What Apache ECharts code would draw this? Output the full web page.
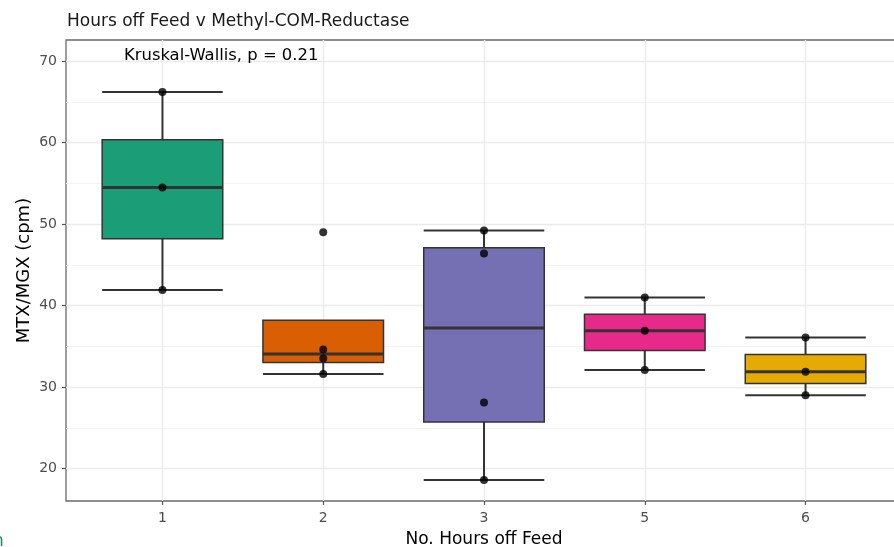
<!DOCTYPE html>
<html>
<head>
<meta charset="utf-8">
<script src="https://cdn.jsdelivr.net/npm/echarts@6/dist/echarts.min.js"></script>
<style>
  html, body { margin: 0; padding: 0; background: #ffffff; }
  #chart { width: 894px; height: 547px; }
</style>
</head>
<body>
<div id="chart"></div>
<script>
// Feed-withdrawal groups (hours) and MTX/MGX readings per animal
const categories = ['1', '2', '3', '5', '6'];
const hours1 = [41.9, 54.5, 66.2];
const hours2 = [31.6, 33.5, 34.6, 49.0];
const hours3 = [18.6, 28.1, 46.4, 49.2];
const hours5 = [32.1, 36.9, 41.0];
const hours6 = [29.0, 31.9, 36.1];
const groupValues = [hours1, hours2, hours3, hours5, hours6];

const boxColors = ['#1B9E77', '#D95F02', '#7570B3', '#E7298A', '#E6AB02'];
const yTicks = [20, 30, 40, 50, 60, 70];
const yMinorTicks = [25, 35, 45, 55, 65];
const yRange = [16.03, 72.58];
const xRange = [0.4, 5.6];
const testLabel = 'Kruskal-Wallis, p = 0.21';

const FONT = '"DejaVu Sans", "Liberation Sans", Arial, sans-serif';

// type-7 quantile
function quantile(sorted, p) {
  const h = (sorted.length - 1) * p;
  const lo = Math.floor(h), hi = Math.ceil(h);
  return sorted[lo] + (h - lo) * (sorted[hi] - sorted[lo]);
}

// Tukey box statistics: [x, lowerWhisker, q1, median, q3, upperWhisker]
function boxStats(values, x) {
  const s = values.slice().sort((a, b) => a - b);
  const q1 = quantile(s, 0.25), med = quantile(s, 0.5), q3 = quantile(s, 0.75);
  const iqr = q3 - q1;
  const inside = s.filter(v => v >= q1 - 1.5 * iqr && v <= q3 + 1.5 * iqr);
  return [x, inside[0], q1, med, q3, inside[inside.length - 1]];
}

const boxData = groupValues.map((vals, i) => boxStats(vals, i + 1));
const pointData = [];
groupValues.forEach((vals, i) => vals.forEach(v => pointData.push([i + 1, v])));

const LINE = '#333333';

// whiskers with caps, then the filled box, then the median bar
function renderBox(params, api) {
  const x = api.value(0);
  const half = api.size([0.75, 0])[0] / 2;
  const pLow = api.coord([x, api.value(1)]);
  const pQ1 = api.coord([x, api.value(2)]);
  const pMed = api.coord([x, api.value(3)]);
  const pQ3 = api.coord([x, api.value(4)]);
  const pHigh = api.coord([x, api.value(5)]);
  const cx = pMed[0];
  const lineStyle = { stroke: LINE, lineWidth: 2, fill: null };
  return {
    type: 'group',
    children: [
      { type: 'line', shape: { x1: cx, y1: pLow[1], x2: cx, y2: pHigh[1] }, style: lineStyle },
      { type: 'line', shape: { x1: cx - half, y1: pLow[1], x2: cx + half, y2: pLow[1] }, style: lineStyle },
      { type: 'line', shape: { x1: cx - half, y1: pHigh[1], x2: cx + half, y2: pHigh[1] }, style: lineStyle },
      {
        type: 'rect',
        shape: { x: cx - half, y: pQ3[1], width: 2 * half, height: pQ1[1] - pQ3[1] },
        style: { fill: boxColors[params.dataIndex], stroke: LINE, lineWidth: 1.5 }
      },
      { type: 'line', shape: { x1: cx - half, y1: pMed[1], x2: cx + half, y2: pMed[1] },
        style: { stroke: LINE, lineWidth: 3, fill: null } }
    ]
  };
}

const gridMajor = { color: '#ebebeb', width: 1.4, type: 'solid' };
const gridMinor = { color: '#f2f2f2', width: 1.2, type: 'solid' };

const chart = echarts.init(document.getElementById('chart'), null, { renderer: 'canvas' });
chart.setOption({
  animation: false,
  backgroundColor: '#ffffff',
  textStyle: { fontFamily: FONT },
  title: {
    text: 'Hours off Feed v Methyl-COM-Reductase',
    left: 62, top: 8,
    textStyle: { fontFamily: FONT, fontSize: 17, fontWeight: 'normal', color: '#1a1a1a' }
  },
  grid: {
    left: 66, right: -8, top: 40, bottom: 46,
    outerBoundsMode: 'none', containLabel: false,
    show: true, borderColor: '#6a6a6a', borderWidth: 1.3, backgroundColor: 'transparent'
  },
  xAxis: {
    type: 'value', min: xRange[0], max: xRange[1],
    axisLine: { show: false },
    splitLine: { show: false },
    axisTick: { show: true, length: 4, customValues: [1, 2, 3, 4, 5], lineStyle: { color: '#555', width: 1.2 } },
    axisLabel: {
      customValues: [1, 2, 3, 4, 5], formatter: v => categories[Math.round(v) - 1],
      color: '#4d4d4d', fontSize: 14, margin: 10, fontFamily: FONT
    },
    name: 'No. Hours off Feed', nameLocation: 'middle', nameGap: 30, nameMoveOverlap: false,
    nameTextStyle: { color: '#000', fontSize: 17, fontFamily: FONT }
  },
  yAxis: {
    type: 'value', min: yRange[0], max: yRange[1],
    axisLine: { show: false },
    splitLine: { show: false },
    axisTick: { show: true, length: 4, customValues: yTicks, lineStyle: { color: '#555', width: 1.2 } },
    axisLabel: { customValues: yTicks, color: '#4d4d4d', fontSize: 14, margin: 9, fontFamily: FONT },
    name: 'MTX/MGX (cpm)', nameLocation: 'middle', nameGap: 33, nameRotate: 90, nameMoveOverlap: false,
    nameTextStyle: { color: '#000', fontSize: 18, fontFamily: FONT }
  },
  graphic: [
    {
      type: 'text', left: 124, top: 48, z: 10,
      style: { text: testLabel, fill: '#000', font: '16.4px ' + FONT }
    },
    {
      type: 'text', left: -7, top: 533, z: 10,
      style: { text: 'n', fill: '#1f8a5e', font: '17px ' + FONT }
    }
  ],
  series: [
    {
      type: 'line', data: [], silent: true, z: 0,
      markLine: {
        silent: true, symbol: 'none', label: { show: false },
        animation: false, z: 0,
        data: [
          ...yMinorTicks.map(v => ({ yAxis: v, lineStyle: gridMinor })),
          ...yTicks.map(v => ({ yAxis: v, lineStyle: gridMajor })),
          ...categories.map((c, i) => ({ xAxis: i + 1, lineStyle: gridMajor }))
        ]
      }
    },
    {
      type: 'custom', renderItem: renderBox, data: boxData, z: 2,
      encode: { x: 0, y: [1, 2, 3, 4, 5] }
    },
    {
      type: 'scatter', data: pointData, z: 3,
      symbol: 'circle', symbolSize: 8,
      itemStyle: { color: '#000' }
    }
  ]
});
</script>
</body>
</html>
